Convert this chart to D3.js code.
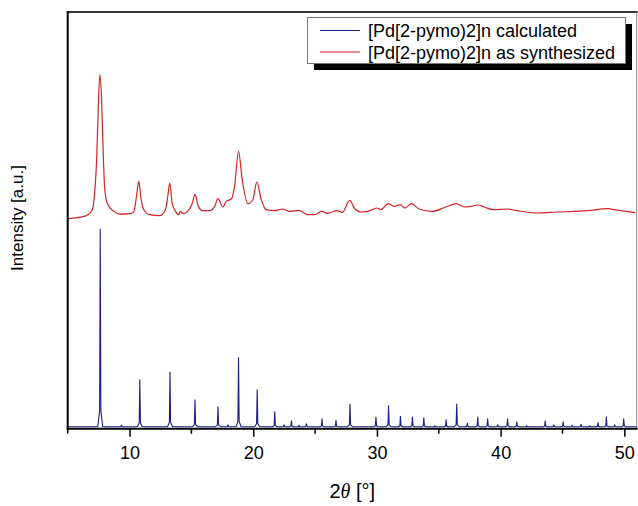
<!DOCTYPE html>
<html><head><meta charset="utf-8">
<script src="https://cdn.jsdelivr.net/npm/d3@7"></script>
<style>html,body{margin:0;padding:0;background:#fff;}svg{display:block;font-family:"Liberation Sans",Arial,sans-serif;}</style>
</head><body>
<svg id="c" width="638" height="506"></svg>
<script>
// ---- data ----
const seriesNames = ["[Pd[2-pymo)2]n calculated", "[Pd[2-pymo)2]n as synthesized"];
const xTicks = [10, 20, 30, 40, 50];
const xMinorTicks = [5, 15, 25, 35, 45];
// calculated pattern: peak positions (2θ) and peak heights (a.u.)
const calcPos = [7.63, 9.35, 10.83, 13.27, 15.29, 17.15, 17.95, 18.81, 20.32, 21.74, 22.5, 23.09, 23.7, 24.3, 25.56, 26.69, 27.82, 29.92, 30.94, 31.90, 32.87, 33.79, 34.70, 35.59, 36.45, 37.31, 38.15, 38.95, 39.76, 40.56, 41.31, 42.10, 43.6, 44.30, 45.05, 45.78, 46.5, 47.2, 47.87, 48.55, 49.22, 49.95];
const calcInt = [199.7, 3.5, 49, 56.7, 29, 22, 4, 71, 39, 17, 4, 8, 3.5, 5, 10, 8.3, 24.7, 11.7, 23, 12.3, 11.7, 11, 3, 9, 24.7, 5.7, 11.7, 10, 4, 10, 7, 3, 8, 4, 7, 3.5, 4.5, 3, 6, 11.7, 4, 10];
const calcBase = 2;
// measured pattern (2θ, intensity a.u.)
const measX = [5.0, 6.0, 6.58, 6.99, 7.18, 7.34, 7.47, 7.6, 7.74, 7.87, 7.98, 8.19, 8.73, 9.2, 10.07, 10.35, 10.56, 10.75, 10.94, 11.15, 11.64, 12.44, 12.9, 13.09, 13.25, 13.44, 13.71, 13.97, 14.1, 14.38, 14.6, 15.08, 15.29, 15.56, 15.93, 16.48, 16.88, 17.15, 17.55, 17.82, 18.23, 18.49, 18.81, 19.11, 19.56, 19.97, 20.29, 20.65, 21.05, 21.72, 22.39, 22.93, 23.68, 24.4, 24.96, 25.53, 26.0, 26.77, 27.2, 27.8, 28.17, 28.7, 29.24, 30.0, 30.32, 30.91, 31.4, 31.88, 32.26, 32.8, 33.4, 34.48, 35.56, 36.45, 37.04, 37.58, 38.2, 38.65, 39.46, 40.53, 41.34, 42.95, 44.56, 45.91, 47.26, 48.55, 49.68, 50.9];
const measY = [210, 211.5, 213.5, 219, 236, 269, 319, 354, 329, 276, 242.3, 225.7, 217.3, 214.5, 215, 217.3, 232.3, 247.3, 229, 219, 214, 213, 219, 232.3, 245.7, 225.7, 217.3, 214, 217.3, 215, 216.3, 225.7, 234.3, 222.3, 218, 218, 222.3, 230, 221.7, 227.3, 229.7, 242.3, 277.3, 249, 225, 229, 246.7, 229, 219, 218, 219.7, 217.3, 218.3, 214, 214, 217.3, 215.3, 218, 216.3, 228.3, 220.7, 216.7, 217.3, 220.7, 219, 225, 222.3, 224, 220.7, 225, 219.7, 217.3, 221.7, 225, 221.7, 222.3, 223.7, 221.7, 219, 219.7, 218, 215.7, 216.7, 217.3, 218.3, 220, 218, 216];
const colors = ["#1e1e8c", "#d42424"];

// ---- chart ----
const svg = d3.select("#c");
const L = 67.7, R = 636.7, T = 12, B = 428.7;
const x = d3.scaleLinear().domain([5, 51]).range([L, R]);
const y = d3.scaleLinear().domain([0, 416.7]).range([B, T]);

// frame (top/right)
svg.append("line").attr("x1", L).attr("x2", R + 1).attr("y1", T).attr("y2", T)
  .attr("stroke", "#333").attr("stroke-width", 2);
svg.append("line").attr("x1", R).attr("x2", R).attr("y1", T).attr("y2", B)
  .attr("stroke", "#888").attr("stroke-width", 1);

// calculated profile
const calcPts = [[5, calcBase]];
calcPos.forEach((p, i) => {
  const h = calcInt[i];
  calcPts.push([p - 0.2, calcBase], [p - 0.05, calcBase + 0.08 * (h - calcBase)], [p, h],
    [p + 0.05, calcBase + 0.08 * (h - calcBase)], [p + 0.2, calcBase]);
});
calcPts.push([51, calcBase]);
const line = d3.line().x(d => x(d[0])).y(d => y(d[1]));
svg.append("path").datum(calcPts).attr("d", line)
  .attr("fill", "none").attr("stroke", colors[0]).attr("stroke-width", 1.1).attr("stroke-linejoin", "round");

const measPts = measX.map((v, i) => [v, measY[i]]);
svg.append("path").datum(measPts).attr("d", d3.line().x(d => x(d[0])).y(d => y(d[1])).curve(d3.curveMonotoneX))
  .attr("fill", "none").attr("stroke", colors[1]).attr("stroke-width", 1.2);

// axes
const gx = svg.append("g").attr("transform", `translate(0,${B})`);
gx.call(d3.axisBottom(x).tickValues(xTicks).tickSize(8).tickFormat(d3.format("d")));
gx.select(".domain").remove();
gx.selectAll(".tick line").attr("stroke", "#000").attr("stroke-width", 1.5);
gx.selectAll(".tick text").attr("font-size", 18).attr("fill", "#000").attr("dy", "1.05em")
  .attr("font-family", "'Liberation Sans', Arial, sans-serif");
gx.selectAll(".minor").data(xMinorTicks).enter().append("line").attr("class", "minor")
  .attr("x1", d => x(d)).attr("x2", d => x(d)).attr("y1", 0).attr("y2", 5)
  .attr("stroke", "#000").attr("stroke-width", 1.5);
svg.append("line").attr("x1", L - 1).attr("x2", R + 1).attr("y1", B).attr("y2", B)
  .attr("stroke", "#000").attr("stroke-width", 2);
svg.append("line").attr("x1", L).attr("x2", L).attr("y1", T - 1).attr("y2", B + 1)
  .attr("stroke", "#000").attr("stroke-width", 2);

// axis titles
svg.append("text").attr("transform", `translate(23,218) rotate(-90)`)
  .attr("text-anchor", "middle").attr("font-size", 17).text("Intensity [a.u.]");
const xt = svg.append("text").attr("x", (L + R) / 2).attr("y", 498).attr("text-anchor", "middle").attr("font-size", 20);
xt.append("tspan").text("2");
xt.append("tspan").attr("font-style", "italic").attr("font-family", "'Liberation Serif', serif").text("θ");
xt.append("tspan").text(" [°]");

// legend
const lg = svg.append("g");
lg.append("rect").attr("x", 314).attr("y", 24).attr("width", 318).attr("height", 46).attr("fill", "#000");
lg.append("rect").attr("x", 307.5).attr("y", 17.5).attr("width", 318).attr("height", 46)
  .attr("fill", "#fff").attr("stroke", "#777").attr("stroke-width", 1);
seriesNames.forEach((n, i) => {
  const yy = 30.5 + i * 21.5;
  lg.append("line").attr("x1", 320).attr("x2", 360).attr("y1", yy).attr("y2", yy)
    .attr("stroke", colors[i]).attr("stroke-width", 1.1);
  lg.append("text").attr("x", 368).attr("y", yy + 6.5).attr("font-size", 18).text(n);
});
</script>
</body></html>
